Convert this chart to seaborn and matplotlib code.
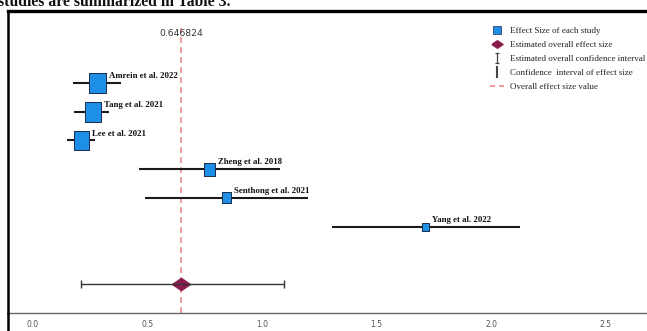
import numpy as np
import pandas as pd
import matplotlib
matplotlib.use("Agg")
import matplotlib.pyplot as plt
import seaborn as sns
from matplotlib.lines import Line2D
from matplotlib.path import Path

# ---- data ----
studies = ["Amrein et al. 2022", "Tang et al. 2021", "Lee et al. 2021",
           "Zheng et al. 2018", "Senthong et al. 2021", "Yang et al. 2022"]
effect = [0.282, 0.262, 0.212, 0.771, 0.845, 1.714]
ci_low = [0.175, 0.179, 0.148, 0.463, 0.489, 1.306]
ci_high = [0.384, 0.332, 0.271, 1.079, 1.201, 2.127]
weights = [20, 20, 19, 13, 11, 8]          # relative study weight (marker size)
overall = 0.646824
overall_low = 0.210
overall_high = 1.096
xticks = [0.0, 0.5, 1.0, 1.5, 2.0, 2.5]
xtick_labels = ["0.0", "0.5", "1.0", "1.5", "2.0", "2.5"]

df = pd.DataFrame({"study": studies, "effect": effect, "low": ci_low,
                   "high": ci_high, "w": weights, "pos": np.arange(len(studies))})
overall_pos = len(studies) + 1

sns.set_style("white")
W, H = 647, 331
fig = plt.figure(figsize=(W / 100, H / 100), dpi=100)
ax = fig.add_axes([8 / W, 18 / H, 1 - 8 / W, (313 - 11) / H])

# CI lines of studies
ax.hlines(df["pos"], df["low"], df["high"], color="#1a1a1a", lw=1.5, zorder=2)

# squares sized by weight
rect = [(-0.41, -0.5), (0.41, -0.5), (0.41, 0.5), (-0.41, 0.5), (-0.41, -0.5)]
sizes = [(w * 0.72) ** 2 for w in df["w"]]
sns.scatterplot(data=df, x="effect", y="pos", marker=rect, s=sizes,
                color="#1e8fe6", edgecolor="#1b2a4a", linewidth=0.7,
                legend=False, ax=ax, zorder=3)

# study labels
for _, r in df.iterrows():
    ax.annotate(r["study"], xy=(r["effect"], r["pos"]),
                xytext=(r["w"] * 0.72 * 0.41 + 2.0, 2.0), textcoords="offset points",
                ha="left", va="bottom", fontsize=6.3, fontweight="bold",
                family="Liberation Serif", color="#111111", zorder=4)

# overall effect
diamond = [(-1, 0), (0, 0.68), (1, 0), (0, -0.68), (-1, 0)]
sns.scatterplot(x=[overall], y=[overall_pos], marker=diamond, s=190,
                color="#8a1c4c", edgecolor="#8a1c4c", linewidth=0.5,
                legend=False, ax=ax, zorder=3)
ax.errorbar([overall], [overall_pos], xerr=[[overall - overall_low], [overall_high - overall]],
            fmt="none", ecolor="#333333", elinewidth=1.0, capsize=3, capthick=1.0, zorder=4)

# overall effect size dashed line
ax.axvline(overall, ymin=0, ymax=0.945, color="#f08a8a", lw=1.2,
           dashes=(3.5, 2.5), zorder=1)
ax.text(overall, -1.73, f"{overall:g}", ha="center", va="center",
        fontsize=6.6, color="#333333", family="DejaVu Sans", zorder=5)

# axes styling
ax.set_xlim(-0.109, 2.681)
ax.set_ylim(8.01, -2.51)
ax.set_yticks([])
ax.set_xticks(xticks)
ax.set_xticklabels(xtick_labels, fontsize=5.5, color="#555555", family="DejaVu Sans")
ax.tick_params(axis="x", length=0, pad=5)
ax.set_xlabel("")
ax.set_ylabel("")
ax.spines["right"].set_visible(False)
ax.spines["top"].set_color("black")
ax.spines["top"].set_linewidth(2.4)
ax.spines["left"].set_color("black")
ax.spines["left"].set_linewidth(1.8)
ax.spines["bottom"].set_color("#666666")
ax.spines["bottom"].set_linewidth(1.0)
# left frame continues below the axis
fig.add_artist(Line2D([8 / W, 8 / W], [0, 18 / H], color="black", lw=1.8,
                      transform=fig.transFigure))

# legend
ibar = Path([(0, -1), (0, 1), (-0.45, 1), (0.45, 1), (-0.45, -1), (0.45, -1)],
            [Path.MOVETO, Path.LINETO, Path.MOVETO, Path.LINETO, Path.MOVETO, Path.LINETO])
handles = [
    Line2D([], [], ls="none", marker="s", markersize=5.5, markerfacecolor="#1e8fe6",
           markeredgecolor="#1b2a4a", markeredgewidth=0.5),
    Line2D([], [], ls="none", marker=diamond, markersize=8, markerfacecolor="#8a1c4c",
           markeredgecolor="#8a1c4c"),
    Line2D([], [], ls="none", marker=ibar, markersize=7, markeredgecolor="#444444",
           markerfacecolor="none", markeredgewidth=0.9),
    Line2D([], [], ls="none", marker="|", markersize=9, markeredgecolor="#444444",
           markeredgewidth=1.5),
    Line2D([], [], color="#f08a8a", lw=1.2, dashes=(3.0, 2.5)),
]
labels = ["Effect Size of each study", "Estimated overall effect size",
          "Estimated overall confidence interval", "Confidence  interval of effect size",
          "Overall effect size value"]
leg = ax.legend(handles, labels, loc="upper left",
                bbox_to_anchor=(490 / W, 1 - 27 / H), bbox_transform=fig.transFigure,
                frameon=False, handlelength=1.6, handletextpad=0.6, labelspacing=0.62,
                borderpad=0, borderaxespad=0,
                prop={"family": "Liberation Serif", "size": 6.5})
for t in leg.get_texts():
    t.set_color("#222222")

# partially visible caption at the top (cropped, as in the source)
fig.text(-0.003, 1 - 6 / H, "studies are summarized in Table 3.", ha="left",
         va="baseline", fontsize=11.3, fontweight="bold", family="Liberation Serif",
         color="#111111")

fig.savefig("out.png", dpi=100)
